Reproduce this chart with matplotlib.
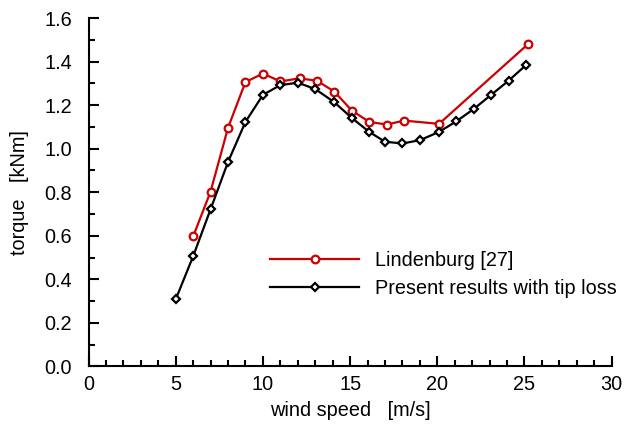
import matplotlib
matplotlib.use("Agg")
import matplotlib.pyplot as plt
from matplotlib.ticker import MultipleLocator

plt.rcParams['font.family'] = ['Liberation Sans', 'DejaVu Sans']

# Lindenburg [27]
lind_ws = [6.0, 7.0, 8.0, 9.0, 10.0, 11.0, 12.1, 13.1, 14.1, 15.1, 16.1, 17.1, 18.1, 20.1, 25.2]
lind_tq = [0.597, 0.803, 1.096, 1.306, 1.345, 1.309, 1.323, 1.312, 1.262, 1.175, 1.123, 1.111, 1.129, 1.114, 1.48]

# present results with tip loss
pres_ws = [5.0, 6.0, 7.0, 8.0, 9.0, 10.0, 11.0, 12.0, 13.0, 14.1, 15.1, 16.1, 17.0, 18.0, 19.0, 20.1, 21.1, 22.1, 23.1, 24.1, 25.1]
pres_tq = [0.308, 0.506, 0.722, 0.939, 1.123, 1.247, 1.292, 1.303, 1.274, 1.213, 1.141, 1.077, 1.032, 1.024, 1.039, 1.077, 1.126, 1.183, 1.248, 1.313, 1.385]

fs = 14.3

fig = plt.figure(figsize=(6.25, 4.26), dpi=100)
ax = fig.add_axes([0.1416, 0.1397, 0.8371, 0.818])

ax.plot(lind_ws, lind_tq, color='#cc0000', lw=1.6, marker='o', ms=5.5,
        mfc='white', mec='#cc0000', mew=1.6, label='Lindenburg [27]')
ax.plot(pres_ws, pres_tq, color='black', lw=1.6, marker='D', ms=4.5,
        mfc='white', mec='black', mew=1.6, label='Present results with tip loss')

ax.set_xlim(0, 30)
ax.set_ylim(0, 1.6)
ax.xaxis.set_major_locator(MultipleLocator(5))
ax.xaxis.set_minor_locator(MultipleLocator(1))
ax.yaxis.set_major_locator(MultipleLocator(0.2))
ax.yaxis.set_minor_locator(MultipleLocator(0.1))
ax.yaxis.set_major_formatter(matplotlib.ticker.FormatStrFormatter('%.1f'))

for s in ['top', 'right']:
	ax.spines[s].set_visible(False)
for s in ['left', 'bottom']:
	ax.spines[s].set_linewidth(1.5)
ax.tick_params(which='both', direction='in', width=1.5, labelsize=fs)
ax.tick_params(which='major', length=7)
ax.tick_params(which='minor', length=4)
ax.tick_params(axis='x', pad=6)
ax.tick_params(axis='y', pad=12)

ax.set_xlabel("wind speed   [m/s]", fontsize=fs, labelpad=5)
ax.set_ylabel("torque   [kNm]", fontsize=fs, labelpad=11)

fig.legend(loc='upper left', bbox_to_anchor=(0.432, 0.41), frameon=False,
           fontsize=fs, handlelength=4.5, handletextpad=0.8, labelspacing=0.45,
           borderpad=0, borderaxespad=0, numpoints=1)

fig.savefig("out.png", dpi=100)
